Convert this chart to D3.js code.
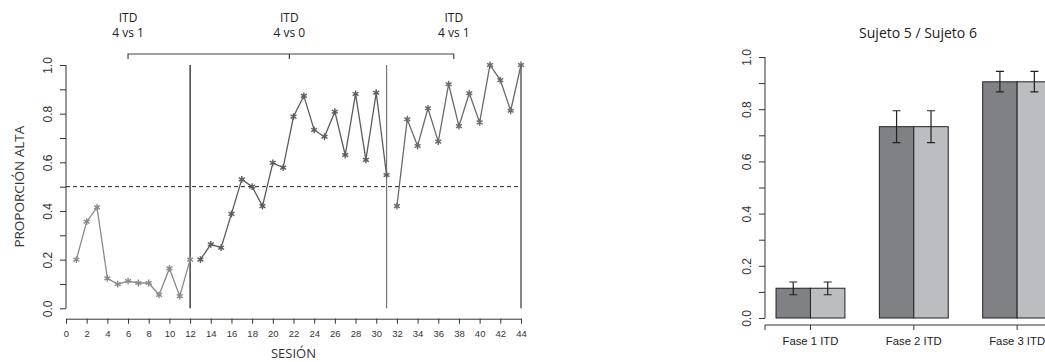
<!DOCTYPE html>
<html>
<head>
<meta charset="utf-8">
<script src="https://cdn.jsdelivr.net/npm/d3@7"></script>
<style>
  body { margin: 0; background: #fff; }
  svg { display: block; font-family: "Open Sans", "Noto Sans", sans-serif; }
</style>
</head>
<body>
<div id="chart"></div>
<script>
// Session data, three phases
let phase1 = [0.20, 0.356, 0.415, 0.123, 0.099, 0.112, 0.104, 0.104, 0.055, 0.164, 0.050, 0.20];
let phase2 = [0.20, 0.263, 0.249, 0.388, 0.530, 0.50, 0.42, 0.598, 0.578, 0.788, 0.873,
              0.733, 0.705, 0.808, 0.63, 0.881, 0.61, 0.886, 0.548];
let phase3 = [0.42, 0.777, 0.667, 0.822, 0.685, 0.921, 0.749, 0.884, 0.764, 1.0, 0.938, 0.812, 1.0];
let phaseStarts = [1, 13, 32];
let phaseLines = [12, 31, 44];
let bracketLabels = [["ITD", "4 vs 1"], ["ITD", "4 vs 0"], ["ITD", "4 vs 1"]];
let bracketPos = [6, 21.6, 37.5];

// Bar chart data
let phases = ["Fase 1 ITD", "Fase 2 ITD", "Fase 3 ITD"];
let subjects = ["Sujeto 5", "Sujeto 6"];
let means5 = [0.114, 0.733, 0.905];
let means6 = [0.114, 0.733, 0.905];
let errLo = [0.089, 0.672, 0.866];
let errHi = [0.138, 0.794, 0.945];

let svg = d3.select("#chart").append("svg")
    .attr("width", 1045)
    .attr("height", 362);

// ---------- Line chart ----------
let x = d3.scaleLinear().domain([0, 44]).range([66, 521]);
let y = d3.scaleLinear().domain([0, 1]).range([308.3, 65]);

let line = d3.line().x(d => x(d.s)).y(d => y(d.v));
let segColors = ["#8a8a8a", "#5c5c5c", "#6a6a6a"];

// Dashed 0.5 line
svg.append("line")
    .attr("x1", x(0)).attr("x2", x(44))
    .attr("y1", y(0.5)).attr("y2", y(0.5))
    .attr("stroke", "#222").attr("stroke-width", 1)
    .attr("stroke-dasharray", "4,3");

// Phase change lines
let vColors = ["#111", "#777", "#333"];
phaseLines.forEach((s, i) => {
    svg.append("line")
        .attr("x1", x(s)).attr("x2", x(s))
        .attr("y1", y(0)).attr("y2", y(1))
        .attr("stroke", vColors[i]).attr("stroke-width", 1.2);
});

[phase1, phase2, phase3].forEach((arr, i) => {
    let pts = arr.map((v, j) => ({s: phaseStarts[i] + j, v: v}));
    svg.append("path")
        .datum(pts)
        .attr("d", line)
        .attr("fill", "none")
        .attr("stroke", segColors[i])
        .attr("stroke-width", 1.3);
    svg.selectAll(".pt" + i)
        .data(pts)
        .enter().append("path")
        .attr("transform", d => "translate(" + x(d.s) + "," + y(d.v) + ")")
        .attr("d", d3.symbol().type(d3.symbolAsterisk).size(32))
        .attr("fill", "none")
        .attr("stroke", segColors[i])
        .attr("stroke-width", 1.4);
});

// Y axis
let yAxis = svg.append("g")
    .attr("transform", "translate(66,0)")
    .call(d3.axisLeft(y).tickValues(d3.range(0, 1.01, 0.1)).tickSize(6)
        .tickFormat(d => Math.round(d * 10) % 2 === 0 ? d3.format(".1f")(d) : ""));
yAxis.select(".domain").attr("d", "M0," + y(0) + "V" + y(1)).attr("stroke", "#333");
yAxis.selectAll(".tick line").attr("stroke", "#333");
yAxis.selectAll(".tick text")
    .attr("transform", "rotate(-90)")
    .attr("x", 0).attr("y", -18)
    .attr("dy", "0.35em")
    .attr("text-anchor", "middle")
    .style("font-size", "12px").style("fill", "#333");

svg.append("text")
    .attr("transform", "translate(19," + y(0.5) + ") rotate(-90)")
    .attr("text-anchor", "middle")
    .attr("dy", "0.35em")
    .style("font-size", "13.5px").style("fill", "#333")
    .text("PROPORCIÓN ALTA");

// X axis
let xAxis = svg.append("g")
    .attr("transform", "translate(0,318.7)")
    .call(d3.axisBottom(x).tickValues(d3.range(0, 45, 2)).tickSize(5).tickSizeOuter(0));
xAxis.select(".domain").attr("stroke", "#333");
xAxis.selectAll(".tick line").attr("stroke", "#333");
xAxis.selectAll(".tick text").attr("y", 12).style("font-size", "9.5px").style("fill", "#333");

svg.append("text")
    .attr("x", x(22)).attr("y", 358)
    .attr("text-anchor", "middle")
    .style("font-size", "13px").style("fill", "#333")
    .text("SESIÓN");

// Top bracket
let by = 54;
svg.append("path")
    .attr("d", "M" + x(bracketPos[0]) + "," + (by + 5) + "V" + by + "H" + x(bracketPos[2]) + "V" + (by + 5)
        + "M" + x(bracketPos[1]) + "," + by + "V" + (by + 5))
    .attr("fill", "none").attr("stroke", "#444").attr("stroke-width", 1.2);
bracketLabels.forEach((lab, i) => {
    let t = svg.append("text")
        .attr("text-anchor", "middle")
        .style("font-size", "12px").style("fill", "#222");
    t.append("tspan").attr("x", x(bracketPos[i])).attr("y", 22).text(lab[0]);
    t.append("tspan").attr("x", x(bracketPos[i])).attr("y", 37).text(lab[1]);
});

// ---------- Bar chart ----------
let yb = d3.scaleLinear().domain([0, 1]).range([318, 57]);
let x0 = d3.scaleBand().domain(phases).range([758.8, 1068.8]).paddingInner(1 / 3).paddingOuter(1 / 6);
let x1 = d3.scaleBand().domain(subjects).range([0, x0.bandwidth()]);
let barColors = {"Sujeto 5": "#808185", "Sujeto 6": "#bcbdc1"};

let barData = [];
phases.forEach((p, i) => {
    barData.push({phase: p, subj: "Sujeto 5", v: means5[i], lo: errLo[i], hi: errHi[i]});
    barData.push({phase: p, subj: "Sujeto 6", v: means6[i], lo: errLo[i], hi: errHi[i]});
});

svg.selectAll(".bar")
    .data(barData)
    .enter().append("rect")
    .attr("class", "bar")
    .attr("x", d => x0(d.phase) + x1(d.subj))
    .attr("width", x1.bandwidth())
    .attr("y", d => yb(d.v))
    .attr("height", d => yb(0) - yb(d.v))
    .attr("fill", d => barColors[d.subj])
    .attr("stroke", "#222").attr("stroke-width", 1);

// Error bars
let eb = svg.selectAll(".err").data(barData).enter().append("g");
eb.append("path")
    .attr("d", d => {
        let cx = x0(d.phase) + x1(d.subj) + x1.bandwidth() / 2;
        return "M" + cx + "," + yb(d.lo) + "V" + yb(d.hi)
            + "M" + (cx - 4) + "," + yb(d.lo) + "H" + (cx + 4)
            + "M" + (cx - 4) + "," + yb(d.hi) + "H" + (cx + 4);
    })
    .attr("fill", "none").attr("stroke", "#222").attr("stroke-width", 1.2);

// Bar y axis
let ybAxis = svg.append("g")
    .attr("transform", "translate(765,0)")
    .call(d3.axisLeft(yb).tickValues(d3.range(0, 1.01, 0.1)).tickSize(6).tickSizeOuter(0)
        .tickFormat(d => Math.round(d * 10) % 2 === 0 ? d3.format(".1f")(d) : ""));
ybAxis.select(".domain").attr("d", "M0," + yb(0) + "V" + yb(1)).attr("stroke", "#333");
ybAxis.selectAll(".tick line").attr("stroke", "#333");
ybAxis.selectAll(".tick text")
    .attr("transform", "rotate(-90)")
    .attr("x", 0).attr("y", -18)
    .attr("dy", "0.35em")
    .attr("text-anchor", "middle")
    .style("font-size", "12px").style("fill", "#333");

// Bar x axis
let xbAxis = svg.append("g")
    .attr("transform", "translate(0,325)")
    .call(d3.axisBottom(x0).tickSize(5).tickSizeOuter(0));
xbAxis.select(".domain").attr("d", "M765,5V0H1045").attr("stroke", "#333");
xbAxis.selectAll(".tick line").attr("stroke", "#333");
xbAxis.selectAll(".tick text").attr("y", 12).style("font-size", "11.3px").style("fill", "#222");

svg.append("text")
    .attr("x", 918).attr("y", 38)
    .attr("text-anchor", "middle")
    .style("font-size", "14px").style("fill", "#222")
    .text("Sujeto 5 / Sujeto 6");
</script>
</body>
</html>
